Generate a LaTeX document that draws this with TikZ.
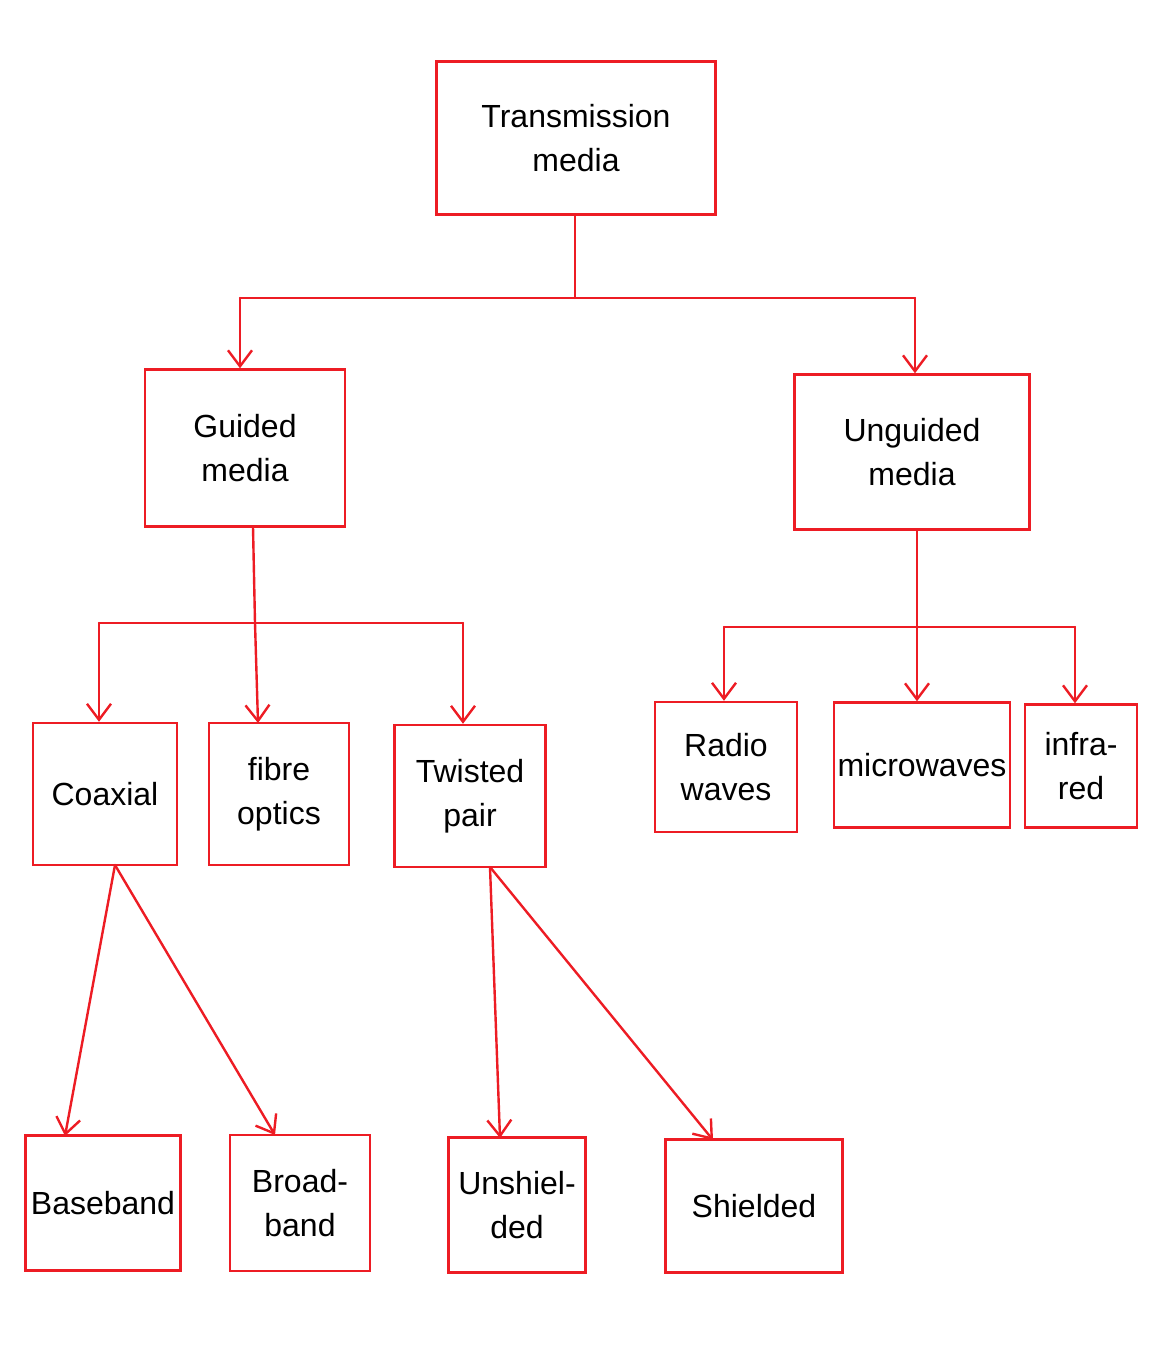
\documentclass[tikz,border=0pt]{standalone}
\usepackage{fontspec}
\setmainfont{Liberation Sans}
\usetikzlibrary{arrows.meta}
\definecolor{lcol}{RGB}{237,28,36}
\tikzset{every picture/.style={x=0.5pt,y=-0.5pt}}
\tikzset{box/.style={draw=lcol,line width=1.2pt,inner sep=0pt,align=center,
  font=\fontsize{16}{22}\selectfont}}
\tikzset{edge/.style={draw=lcol,line width=1.2pt,line cap=round,-{Straight Barb[length=8pt,width=12pt]}}}
\tikzset{link/.style={draw=lcol,line width=1.2pt,line cap=round}}

\begin{document}
\begin{tikzpicture}
\useasboundingbox (0,0) rectangle (1158,1359);
\node [box,minimum width=139.5pt,minimum height=76.5pt] (tm) at (576,138) {Transmission\\media};
\node [box,minimum width=100pt,minimum height=78.5pt] (gm) at (245,448) {Guided\\media};
\node [box,minimum width=117.5pt,minimum height=77.5pt] (um) at (912,452) {Unguided\\media};

\node [box,minimum width=72pt,minimum height=71pt] (cx) at (105,794) {Coaxial};
\node [box,minimum width=70pt,minimum height=71pt] (fo) at (279,794) {fibre\\optics};
\node [box,minimum width=75.5pt,minimum height=71pt] (tp) at (470,796) {Twisted\\pair};

\node [box,minimum width=71pt,minimum height=65pt] (rw) at (726,767) {Radio\\waves};
\node [box,minimum width=88pt,minimum height=62.5pt] (mw) at (922,765) {microwaves};
\node [box,minimum width=56pt,minimum height=61.5pt] (ir) at (1081,766) {infra-\\red};

\node [box,minimum width=77.5pt,minimum height=67.5pt] (bb) at (103,1203) {Baseband};
\node [box,minimum width=70pt,minimum height=68pt] (br) at (300,1203) {Broad-\\band};
\node [box,minimum width=68.5pt,minimum height=67.5pt] (us) at (517,1205) {Unshiel-\\ded};
\node [box,minimum width=88.5pt,minimum height=66.5pt] (sh) at (754,1206) {Shielded};

\coordinate (j1) at (575,298);
\coordinate (j1l) at (240,298);
\coordinate (j1r) at (915,298);
\draw [link] (tm.south -| j1) -- (j1);
\draw [link] (j1l) -- (j1r);
\draw [edge] (j1l) -- (j1l |- gm.north);
\draw [edge] (j1r) -- (j1r |- um.north);

\coordinate (j2) at (255,623);
\coordinate (j2l) at (99,623);
\coordinate (j2r) at (463,623);
\draw [link] (253,527) -- (j2);
\draw [link] (j2l) -- (j2r);
\draw [edge] (j2l) -- (j2l |- cx.north);
\draw [edge] (j2) -- (258,723);
\draw [edge] (j2r) -- (j2r |- tp.north);

\coordinate (j3) at (917,627);
\coordinate (j3l) at (724,627);
\coordinate (j3r) at (1075,627);
\draw [link] (um.south -| j3) -- (j3);
\draw [link] (j3l) -- (j3r);
\draw [edge] (j3l) -- (j3l |- rw.north);
\draw [edge] (j3) -- (j3 |- mw.north);
\draw [edge] (j3r) -- (j3r |- ir.north);

\coordinate (cb) at (115,865);
\draw [edge] (cb) -- (65,1136);
\draw [edge] (cb) -- (275,1135);
\coordinate (tb) at (490,867);
\draw [edge] (tb) -- (500,1138);
\draw [edge] (tb) -- (713,1140);
\end{tikzpicture}
\end{document}
